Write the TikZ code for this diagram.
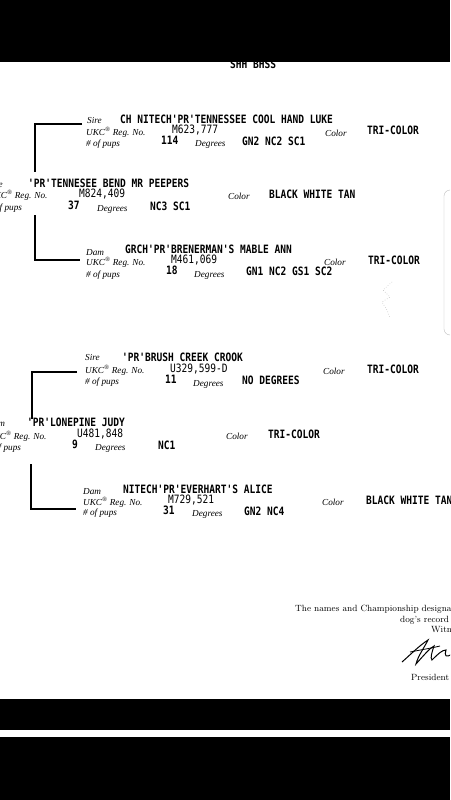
\documentclass[tikz,border=0pt]{standalone}
\usepackage{fontspec}
\newfontfamily\dotfont[FakeStretch=0.83]{DejaVu Sans Mono}
\newfontfamily\lblfont{Liberation Serif}
\begin{document}
\begin{tikzpicture}[x=1pt, y=-1pt,
    dog/.style={anchor=base west, inner sep=0pt, font=\dotfont\bfseries\fontsize{11.5}{12}\selectfont},
    num/.style={dog, font=\dotfont\fontsize{11.5}{12}\selectfont},
    lbl/.style={anchor=base west, inner sep=0pt, font=\lblfont\itshape\fontsize{9.2}{10}\selectfont},
    foot/.style={anchor=base west, inner sep=0pt, font=\fontsize{9}{10}\selectfont},
    bracket/.style={line width=1.2pt}]
        \clip (0,0) rectangle (450,800);
        \fill[white] (0,0) rectangle (450,800);
        \node[dog] (head) at (230,68.5) {SHH BHSS};
        \fill (0,0) rectangle (450,62);

        % Vater: Sire oben
        \node[lbl] (sAsire) at (87,123) {Sire};
        \node[dog] (sAname) at (120,123) {CH NITECH'PR'TENNESSEE COOL HAND LUKE};
        \node[lbl] (sAukc) at (86,135) {UKC\textsuperscript{\textregistered} Reg. No.};
        \node[num] (sAreg) at (172,133) {M623,777};
        \node[lbl] (sAcol) at (325,136) {Color};
        \node[dog] (sAcolv) at (367,134) {TRI-COLOR};
        \node[lbl] (sApups) at (86,146) {\# of pups};
        \node[dog] (sApupsv) at (161,144) {114};
        \node[lbl] (sAdeg) at (195,146) {Degrees};
        \node[dog] (sAdegv) at (242,145) {GN2 NC2 SC1};

        % Vater
        \node[lbl] (mAsire) at (-12,187) {Sire};
        \node[dog] (mAname) at (28,187) {'PR'TENNESEE BEND MR PEEPERS};
        \node[lbl] (mAukc) at (-12,198) {UKC\textsuperscript{\textregistered} Reg. No.};
        \node[num] (mAreg) at (79,197) {M824,409};
        \node[lbl] (mAcol) at (228,199) {Color};
        \node[dog] (mAcolv) at (269,198) {BLACK WHITE TAN};
        \node[lbl] (mApups) at (-12,210) {\# of pups};
        \node[dog] (mApupsv) at (68,209) {37};
        \node[lbl] (mAdeg) at (97,211) {Degrees};
        \node[dog] (mAdegv) at (150,210) {NC3 SC1};

        % Vater: Dam unten
        \node[lbl] (dAdam) at (86,255) {Dam};
        \node[dog] (dAname) at (125,253) {GRCH'PR'BRENERMAN'S MABLE ANN};
        \node[lbl] (dAukc) at (86,265) {UKC\textsuperscript{\textregistered} Reg. No.};
        \node[num] (dAreg) at (171,263) {M461,069};
        \node[lbl] (dAcol) at (324,265) {Color};
        \node[dog] (dAcolv) at (368,264) {TRI-COLOR};
        \node[lbl] (dApups) at (86,277) {\# of pups};
        \node[dog] (dApupsv) at (166,274) {18};
        \node[lbl] (dAdeg) at (194,277) {Degrees};
        \node[dog] (dAdegv) at (246,275) {GN1 NC2 GS1 SC2};

        \coordinate (sAtip) at (82,124); \coordinate (mAtop) at (35,172);
        \coordinate (mAbot) at (35,215); \coordinate (dAtip) at (80,260);
        \draw[bracket] (sAtip) -| (mAtop);
        \draw[bracket] (mAbot) |- (dAtip);

        % Mutter: Sire oben
        \node[lbl] (sBsire) at (85,360) {Sire};
        \node[dog] (sBname) at (122,361) {'PR'BRUSH CREEK CROOK};
        \node[lbl] (sBukc) at (85,373) {UKC\textsuperscript{\textregistered} Reg. No.};
        \node[num] (sBreg) at (170,372) {U329,599-D};
        \node[lbl] (sBcol) at (323,374) {Color};
        \node[dog] (sBcolv) at (367,373) {TRI-COLOR};
        \node[lbl] (sBpups) at (85,384) {\# of pups};
        \node[dog] (sBpupsv) at (165,383) {11};
        \node[lbl] (sBdeg) at (193,386) {Degrees};
        \node[dog] (sBdegv) at (242,384) {NO DEGREES};

        % Mutter
        \node[lbl] (mBdam) at (-13,426) {Dam};
        \node[dog] (mBname) at (27,426) {'PR'LONEPINE JUDY};
        \node[lbl] (mBukc) at (-13,439) {UKC\textsuperscript{\textregistered} Reg. No.};
        \node[num] (mBreg) at (77,437) {U481,848};
        \node[lbl] (mBcol) at (226,439) {Color};
        \node[dog] (mBcolv) at (268,438) {TRI-COLOR};
        \node[lbl] (mBpups) at (-13,450) {\# of pups};
        \node[dog] (mBpupsv) at (72,448) {9};
        \node[lbl] (mBdeg) at (95,450) {Degrees};
        \node[dog] (mBdegv) at (158,449) {NC1};

        % Mutter: Dam unten
        \node[lbl] (dBdam) at (83,494) {Dam};
        \node[dog] (dBname) at (123,493) {NITECH'PR'EVERHART'S ALICE};
        \node[lbl] (dBukc) at (83,505) {UKC\textsuperscript{\textregistered} Reg. No.};
        \node[num] (dBreg) at (168,503) {M729,521};
        \node[lbl] (dBcol) at (322,505) {Color};
        \node[dog] (dBcolv) at (366,504) {BLACK WHITE TAN};
        \node[lbl] (dBpups) at (83,515) {\# of pups};
        \node[dog] (dBpupsv) at (163,514) {31};
        \node[lbl] (dBdeg) at (192,516) {Degrees};
        \node[dog] (dBdegv) at (244,515) {GN2 NC4};

        \coordinate (sBtip) at (77,372); \coordinate (mBtop) at (32,419);
        \coordinate (mBbot) at (31,464); \coordinate (dBtip) at (76,509);
        \draw[bracket] (sBtip) -| (mBtop);
        \draw[bracket] (mBbot) |- (dBtip);

        % Randnotizen
        \draw[black!30, line width=0.5pt, dotted] (392,282) -- (383,290) -- (390,297) -- (382,302) -- (387,310) -- (390,318);
        \draw[black!25, rounded corners=6pt] (444,190) rectangle (480,335);

        % Fusszeile
        \node[foot] (f1) at (295,611) {The names and Championship designati};
        \node[foot] (f2) at (400,622) {dog's record};
        \node[foot] (f3) at (431,632) {Witn};
        \draw[line width=1pt] (402,662) .. controls (410,655) and (420,645) .. (428,640)
            .. controls (424,648) and (418,656) .. (416,664)
            .. controls (424,655) and (430,648) .. (434,646)
            .. controls (432,652) and (430,658) .. (432,660)
            .. controls (438,654) and (442,650) .. (446,650)
            .. controls (444,656) and (446,658) .. (452,654);
        \draw[line width=0.8pt] (410,652) .. controls (420,650) and (432,648) .. (440,646);
        \node[foot] (f4) at (411,680) {President};

        \fill (0,699) rectangle (450,730);
        \fill (0,737) rectangle (450,800);
    \end{tikzpicture}
\end{document}
